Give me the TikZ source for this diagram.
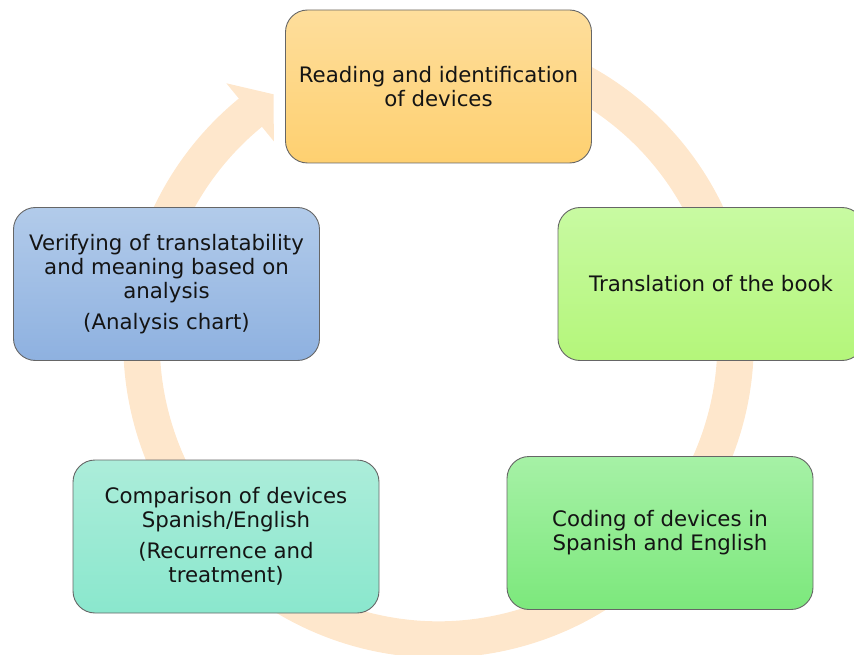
\documentclass[tikz,border=0pt]{standalone}
\usepackage{fontspec}
\setmainfont{DejaVu Sans}
\usepackage{tikz}
\usetikzlibrary{calc}

\definecolor{ringpeach}{RGB}{254,231,204}
\definecolor{readtop}{RGB}{254,222,156}
\definecolor{readbot}{RGB}{254,208,112}
\definecolor{transtop}{RGB}{200,250,162}
\definecolor{transbot}{RGB}{180,246,122}
\definecolor{codetop}{RGB}{166,241,166}
\definecolor{codebot}{RGB}{124,232,124}
\definecolor{comptop}{RGB}{172,237,218}
\definecolor{compbot}{RGB}{138,231,205}
\definecolor{verifytop}{RGB}{178,203,234}
\definecolor{verifybot}{RGB}{142,177,224}

\begin{document}
\begin{tikzpicture}[x=1pt,y=1pt,
  stage/.style={draw=black!60,line width=0.9pt,rounded corners=22pt,
    minimum width=306pt,minimum height=153pt,align=center,
    font=\fontsize{21.3}{23.8}\selectfont,text=black!92},
  ring/.style={draw=ringpeach,line width=36.5pt}]
\useasboundingbox (0,0) rectangle (854,-655);
\coordinate (cen) at (438.5,-342.5);
% clockwise circular arrow, drawn first so the boxes sit on it
\draw[ring] ($(cen)+(105:297)$) arc[start angle=105,end angle=-231,radius=297];
\fill[ringpeach] ($(cen)+(129.3:335)$) -- ($(cen)+(123.6:298)$) -- ($(cen)+(129.3:260)$) -- cycle;
% the five stages
\node[stage,top color=readtop,bottom color=readbot] (read) at (438.5,-86.5)
  {Reading and identification\\of devices};
\node[stage,top color=transtop,bottom color=transbot] (trans) at (711,-284)
  {Translation of the book};
\node[stage,top color=codetop,bottom color=codebot] (code) at (660,-533)
  {Coding of devices in\\Spanish and English};
\node[stage,top color=comptop,bottom color=compbot] (comp) at (226,-536.5)
  {Comparison of devices\\Spanish/English\\[7pt](Recurrence and\\treatment)};
\node[stage,top color=verifytop,bottom color=verifybot] (verify) at (166.5,-284)
  {Verifying of translatability\\and meaning based on\\analysis\\[7pt](Analysis chart)};
\end{tikzpicture}
\end{document}
